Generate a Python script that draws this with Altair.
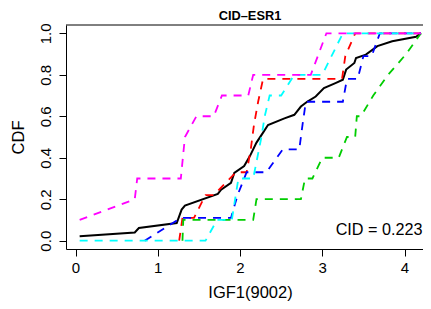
import altair as alt
import pandas as pd

# ---- data ----
x_ticks = [0, 1, 2, 3, 4]
y_ticks = [0.0, 0.2, 0.4, 0.6, 0.8, 1.0]

all_x = [0.05, 0.72, 0.77, 1.23, 1.29, 1.33, 1.73, 1.77, 1.89, 1.93, 2.05, 2.12, 2.20, 2.28, 2.34,
         2.54, 2.66, 2.74, 2.82, 2.92, 3.02, 3.16, 3.25, 3.29, 3.39, 3.41, 3.53, 3.67, 3.85, 4.14, 4.20]
all_y = [0.021, 0.040, 0.061, 0.085, 0.150, 0.169, 0.226, 0.246, 0.279, 0.327, 0.360, 0.408, 0.473, 0.521, 0.558,
         0.590, 0.607, 0.647, 0.671, 0.695, 0.736, 0.760, 0.776, 0.825, 0.857, 0.881, 0.897, 0.938, 0.962, 0.983, 1.0]

red_x = [1.26, 1.30, 1.44, 1.58, 1.68, 1.95, 2.08, 2.13, 2.17, 2.22, 2.28, 3.24, 3.28, 3.40, 4.20]
red_y = [0.0, 0.11, 0.11, 0.22, 0.22, 0.33, 0.33, 0.44, 0.56, 0.67, 0.78, 0.78, 0.89, 1.0, 1.0]

green_x = [1.30, 1.31, 2.16, 2.20, 2.74, 2.79, 2.88, 3.00, 3.20, 3.30, 3.40, 3.42, 3.47, 3.62, 3.80, 4.02, 4.20]
green_y = [0.0, 0.1, 0.1, 0.2, 0.2, 0.3, 0.3, 0.4, 0.4, 0.5, 0.5, 0.6, 0.6, 0.7, 0.8, 0.9, 1.0]

blue_x = [0.84, 1.28, 1.89, 1.97, 2.08, 2.32, 2.52, 2.72, 2.76, 2.80, 3.25, 3.30, 3.43, 3.50, 3.60, 3.70, 4.20]
blue_y = [0.0, 0.11, 0.11, 0.22, 0.33, 0.33, 0.44, 0.44, 0.56, 0.67, 0.67, 0.78, 0.78, 0.89, 0.89, 1.0, 1.0]

cyan_x = [0.05, 1.58, 1.72, 1.90, 1.94, 1.98, 2.16, 2.21, 2.26, 2.30, 2.36, 2.50, 2.66, 3.00, 3.25, 4.20]
cyan_y = [0.0, 0.0, 0.1, 0.1, 0.2, 0.3, 0.3, 0.4, 0.5, 0.6, 0.7, 0.7, 0.8, 0.8, 1.0, 1.0]

magenta_x = [0.05, 0.72, 0.75, 1.28, 1.33, 1.47, 1.68, 1.78, 2.10, 2.16, 2.86, 3.05, 4.20]
magenta_y = [0.10, 0.20, 0.30, 0.30, 0.50, 0.60, 0.60, 0.70, 0.70, 0.80, 0.80, 1.0, 1.0]

title_text = "CID\u2013ESR1"
x_title = "IGF1(9002)"
y_title = "CDF"
note_text = "CID = 0.223"

series = [
    (all_x, all_y, "#000000", None, 2.0),
    (red_x, red_y, "#FF0000", [8, 7], 1.8),
    (green_x, green_y, "#00CD00", [8, 7], 1.8),
    (blue_x, blue_y, "#0000FF", [8, 7], 1.8),
    (cyan_x, cyan_y, "#00FFFF", [8, 7], 1.8),
    (magenta_x, magenta_y, "#FF00FF", [8, 7], 1.8),
]

W, H = 357, 224
FONT = "Liberation Sans"

xs = alt.Scale(domain=[-0.116, 4.2245], nice=False, zero=False)
ys = alt.Scale(domain=[-0.04, 1.04], nice=False, zero=False)

x_axis = alt.Axis(values=x_ticks, title=x_title, grid=False, domain=True, domainColor="black",
                  domainWidth=1, tickSize=7, tickColor="black", tickWidth=1,
                  labelFont=FONT, labelFontSize=15, labelColor="black", labelBaseline="alphabetic",
                  labelPadding=16, labelFlush=False, labelOverlap=False, labelBound=False,
                  titleFont=FONT, titleFontSize=16.5, titleFontWeight="normal", titleColor="black",
                  titleX=184, titleY=48, titleBaseline="alphabetic", titleAlign="center")
y_axis = alt.Axis(values=y_ticks, format=".1f", title=y_title, grid=False, domain=True,
                  domainColor="black", domainWidth=1, tickSize=7, tickColor="black", tickWidth=1,
                  labelFont=FONT, labelFontSize=15, labelColor="black", labelAngle=270,
                  labelAlign="center", labelBaseline="alphabetic", labelPadding=9,
                  labelFlush=False, labelOverlap=False, labelBound=False,
                  titleFont=FONT, titleFontSize=16.5, titleFontWeight="normal", titleColor="black",
                  titleAngle=270, titleX=-43, titleY=112, titleAlign="center",
                  titleBaseline="alphabetic")

layers = []
for i, (sx, sy, col, dash, sw) in enumerate(series):
    df = pd.DataFrame({"x": sx, "y": sy, "i": list(range(len(sx)))})
    kw = dict(color=col, strokeWidth=sw, clip=True)
    if dash:
        kw["strokeDash"] = dash
    layers.append(
        alt.Chart(df).mark_line(**kw).encode(
            x=alt.X("x:Q", scale=xs, axis=x_axis),
            y=alt.Y("y:Q", scale=ys, axis=y_axis),
            order="i:Q",
        )
    )

one = pd.DataFrame({"a": [0]})
top_rule = alt.Chart(one).mark_rule(color="black", strokeWidth=1).encode(
    x=alt.value(0), x2=alt.value(W), y=alt.value(0))

title = alt.Chart(pd.DataFrame({"t": [title_text]})).mark_text(
    font=FONT, fontSize=12.8, fontWeight="bold", color="black", align="center",
    baseline="alphabetic").encode(text="t:N", x=alt.value(184), y=alt.value(-5.3))

note = alt.Chart(pd.DataFrame({"t": [note_text]})).mark_text(
    font=FONT, fontSize=16.2, color="black", align="right",
    baseline="alphabetic").encode(text="t:N", x=alt.value(W - 0.5), y=alt.value(209.7))

chart = alt.layer(*layers, top_rule, title, note).properties(
    width=W, height=H,
    autosize=alt.AutoSizeParams(type="none"),
    padding={"left": 58, "top": 17, "right": 0, "bottom": 52},
).configure_view(stroke=None)

chart.save("out.html", embed_options={"renderer": "svg", "actions": False})
